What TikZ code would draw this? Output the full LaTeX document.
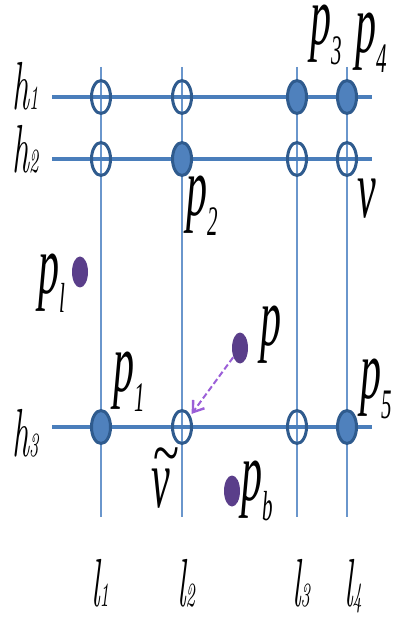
\documentclass[tikz,border=0pt]{standalone}
\usepackage{fontspec}
\usepackage{graphicx}
\setmainfont{Liberation Serif}
\newfontfamily\lmfont{Latin Modern Roman}
\usetikzlibrary{shapes.geometric,arrows.meta}
\definecolor{hlinec}{HTML}{4A7EBB}
\definecolor{vlinec}{HTML}{6A96CC}
\definecolor{ringc}{HTML}{2F5B8E}
\definecolor{fillc}{HTML}{4F81BD}
\definecolor{dotc}{HTML}{5A3E8A}
\definecolor{arrc}{HTML}{9B5FD8}
\newcommand\stretchy[1]{\scalebox{1}[2.0]{#1}}
\newcommand\plab[2]{\stretchy{\fontsize{21}{21}\selectfont\itshape #1\raisebox{-5pt}{\fontsize{10.5}{10.5}\selectfont #2}}}
\newcommand\glab[2]{\stretchy{\lmfont\itshape\fontsize{17}{17}\selectfont #1\fontsize{8.5}{8.5}\selectfont #2}}
\tikzset{
  hl/.style={draw=hlinec, line width=1.6pt},
  vl/.style={draw=vlinec, line width=0.9pt},
  openpt/.style={ellipse, draw=ringc, line width=1.5pt, minimum width=9.5pt, minimum height=16.5pt, inner sep=0pt},
  fullpt/.style={ellipse, draw=ringc, fill=fillc, line width=1.5pt, minimum width=9.5pt, minimum height=16.5pt, inner sep=0pt},
  ppt/.style={ellipse, fill=dotc, minimum width=8pt, minimum height=15.5pt, inner sep=0pt},
  lab/.style={anchor=base west, inner sep=0pt, outer sep=0pt},
}
\begin{document}
\begin{tikzpicture}[x=0.5pt,y=-0.5pt]
\useasboundingbox (0,0) rectangle (396,619);
% line ends
\foreach \n/\x in {1/101,2/182,3/297,4/347}{
  \coordinate (vt\n) at (\x,67);
  \coordinate (vb\n) at (\x,517);
}
\foreach \n/\y in {1/97,2/159,3/427}{
  \coordinate (hw\n) at (52,\y);
  \coordinate (he\n) at (372,\y);
}
\foreach \n in {1,2,3,4}{ \draw[vl] (vt\n) -- (vb\n); }
\foreach \n in {1,2,3}{ \draw[hl] (hw\n) -- (he\n); }
% intersection points
\node[openpt] (a11) at (101,97) {};
\node[openpt] (a12) at (182,97) {};
\node[fullpt] (a13) at (297,97) {};
\node[fullpt] (a14) at (347,97) {};
\node[openpt] (a21) at (101,159) {};
\node[fullpt] (a22) at (182,159) {};
\node[openpt] (a23) at (297,159) {};
\node[openpt] (a24) at (347,159) {};
\node[fullpt] (a31) at (101,427) {};
\node[openpt] (a32) at (182,427) {};
\node[openpt] (a33) at (297,427) {};
\node[fullpt] (a34) at (347,427) {};
% free points
\node[ppt] (pl) at (80,272) {};
\node[ppt] (pp) at (240,348) {};
\node[ppt] (pb) at (232,491) {};
\draw[arrc, line width=1pt, dash pattern=on 3pt off 1.5pt, -{Straight Barb[length=5pt,width=7pt,line width=1.2pt]}, shorten >=1pt] (pp) -- (a32);
% line labels
\node[lab] (th1) at (12,110) {\glab{h}{1}};
\node[lab] (th2) at (12,173) {\glab{h}{2}};
\node[lab] (th3) at (12,456) {\glab{h}{3}};
\node[lab] (tl1) at (91,606) {\glab{l}{1}};
\node[lab] (tl2) at (177,606) {\glab{l}{2}};
\node[lab] (tl3) at (292,606) {\glab{l}{3}};
\node[lab] (tl4) at (344,606) {\glab{l}{4}};
% point labels
\node[lab] (tp3) at (310,45) {\plab{p}{3}};
\node[lab] (tp4) at (355,53) {\plab{p}{4}};
\node[lab] (tp2) at (186,216) {\plab{p}{2}};
\node[lab] (tv) at (357,218) {\plab{v}{}};
\node[lab] (tpl) at (38,293) {\plab{p}{\textit{l}}};
\node[lab] (tp1) at (113,391) {\plab{p}{1}};
\node[lab] (tp) at (260,345) {\plab{p}{}};
\node[lab] (tp5) at (360,398) {\plab{p}{5}};
\node[lab] (tvt) at (151,507) {\stretchy{\fontsize{21}{21}\selectfont\rlap{\hspace{1pt}\raisebox{8pt}{\scalebox{1.0}[0.7]{\fontsize{24}{24}\selectfont\char"007E}}}\itshape v}};
\node[lab] (tpb) at (241,500) {\plab{p}{\textit{b}}};
\end{tikzpicture}
\end{document}
